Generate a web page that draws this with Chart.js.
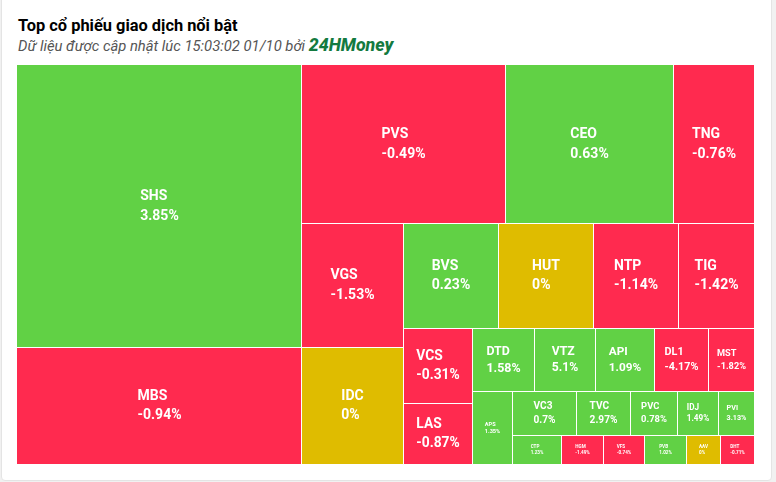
<!DOCTYPE html>
<html>
<head>
<meta charset="utf-8">
<script src="https://cdn.jsdelivr.net/npm/chart.js@4.4.1/dist/chart.umd.min.js"></script>
<style>
html,body{margin:0;padding:0;width:776px;height:482px;overflow:hidden;background:#f1f1f1;font-family:Roboto,"Noto Sans",sans-serif;}
#card{position:absolute;left:1px;top:-4px;width:769px;height:483px;background:#fff;border:1px solid #e4e4e4;border-radius:4px;}
#title{position:absolute;left:18px;top:18px;font-weight:700;font-size:16.4px;line-height:16px;color:#000;white-space:nowrap;}
#sub{position:absolute;left:18px;top:38px;font-style:italic;font-size:14.8px;line-height:14px;color:#555;white-space:nowrap;}
#sub b{color:#137a3f;font-size:17.8px;font-weight:800;}
#wrap{position:absolute;left:17px;top:65px;width:737px;height:399px;}
</style>
</head>
<body>
<div id="card"></div>
<div id="title">Top cổ phiếu giao dịch nổi bật</div>
<div id="sub">Dữ liệu được cập nhật lúc 15:03:02 01/10 bởi <b>24HMoney</b></div>
<div id="wrap"><canvas id="c" width="737" height="399"></canvas></div>
<script>
// Data (trading value, arbitrary units; % change)
const tickers = ["SHS","MBS","PVS","CEO","TNG","VGS","IDC","BVS","HUT","NTP","TIG","VCS","LAS","DTD","VTZ","API","DL1","MST","APS","VC3","TVC","PVC","IDJ","PVI","CTP","HGM","VFS","PVB","AAV","DHT"];
const tradeValues = [798,331,322,264,127,126.5,119,100,100,89,80,52,42,39,38.4,37.2,34,29.1,29,28.2,23.8,20.7,18,15.8,14.2,12.2,11.9,11.9,9.9,9.8];
const priceChanges = [3.85,-0.94,-0.49,0.63,-0.76,-1.53,0,0.23,0,-1.14,-1.42,-0.31,-0.87,1.58,5.1,1.09,-4.17,-1.82,1.35,0.7,2.97,0.78,1.49,3.13,1.23,-1.49,-0.74,1.02,0,-0.71];

const UP='#61d145', DOWN='#ff2a4f', FLAT='#dfbc00';

// Squarified layout (low aspect ratio, alternating direction)
function layoutTreemap(vals, x0, y0, W, H){
  const total = vals.reduce((a,b)=>a+b,0);
  const out = [];
  const parent = {x:x0,y:y0,width:W,height:H};
  const plot = {x:x0,y:y0};
  const g = {height:H,width:W,direction:0,total:0,nW:0,lW:0,nH:0,lH:0,elArr:[],lP:{total:0,lH:0,nH:0,lW:0,nW:0,nR:0,lR:0}};
  const ar = (w,h)=>Math.max(w/h,h/w);
  function add(el){
    const lP = g.lP;
    lP.total = g.elArr[g.elArr.length-1];
    g.total += el;
    if(g.direction===0){
      g.lW = g.nW; lP.lH = lP.total/g.lW; lP.lR = ar(g.lW,lP.lH);
      g.nW = g.total/g.height; lP.nH = lP.total/g.nW; lP.nR = ar(g.nW,lP.nH);
    } else {
      g.lH = g.nH; lP.lW = lP.total/g.lH; lP.lR = ar(lP.lW,g.lH);
      g.nH = g.total/g.width; lP.nW = lP.total/g.nH; lP.nR = ar(lP.nW,g.nH);
    }
    g.elArr.push(el);
  }
  function calc(last){
    let gW=g.lW, gH=g.lH, keep;
    if(last){gW=g.nW; gH=g.nH;} else keep = g.elArr[g.elArr.length-1];
    const end = g.elArr.length-1;
    g.elArr.forEach((p,i)=>{
      if(last || i<end){
        let pw,ph;
        if(g.direction===0){pw=gW; ph=p/pw;} else {ph=gH; pw=p/ph;}
        out.push({x:plot.x,y:plot.y,w:pw,h:ph});
        if(g.direction===0) plot.y+=ph; else plot.x+=pw;
      }
    });
    g.nW=0; g.lW=0; g.elArr=[]; g.total=0;
    if(g.direction===0) g.width-=gW; else g.height-=gH;
    plot.y = parent.y + (parent.height - g.height);
    plot.x = parent.x + (parent.width - g.width);
    g.direction = 1-g.direction;
    if(!last) add(keep);
  }
  vals.forEach((v,i)=>{
    add(W*H*v/total);
    if(g.lP.nR > g.lP.lR) calc(false);
    if(i===vals.length-1) calc(true);
  });
  return out;
}

const treemapPlugin = {
  id:'treemapCells',
  afterDatasetsDraw(chart){
    const xs = chart.scales.x, ys = chart.scales.y, ctx = chart.ctx;
    const rects = layoutTreemap(tradeValues, xs.min, ys.min, xs.max-xs.min, ys.max-ys.min);
    ctx.save();
    rects.forEach((r,i)=>{
      const x1 = Math.round(xs.getPixelForValue(r.x));
      const x2 = Math.round(xs.getPixelForValue(r.x+r.w));
      const y1 = Math.round(ys.getPixelForValue(r.y));
      const y2 = Math.round(ys.getPixelForValue(r.y+r.h));
      const ch = priceChanges[i];
      ctx.fillStyle = ch>0?UP:(ch<0?DOWN:FLAT);
      const ix = x1>chart.chartArea.left+0.5?1:0;
      const iy = y1>chart.chartArea.top+0.5?1:0;
      ctx.fillRect(x1+ix, y1+iy, x2-x1-ix, y2-y1-iy);
      // label
      const w = x2-x1, h = y2-y1;
      let fs = Math.min(14, 0.2*w, 0.23*h);
      if(h<36) fs = Math.min(fs, h*0.16);
      if(h/w>1.6 && w<50) fs *= 0.7;
      ctx.font = '700 '+fs.toFixed(2)+'px Roboto, "Noto Sans", sans-serif';
      const l1 = tickers[i], l2 = ch+'%';
      const tw = Math.max(ctx.measureText(l1).width, ctx.measureText(l2).width);
      const lh = fs*1.38;
      const cx = (x1+x2)/2+0.5, cy = (y1+y2)/2+0.5;
      ctx.fillStyle = '#ffffff';
      ctx.textAlign = 'left';
      ctx.textBaseline = 'middle';
      ctx.fillText(l1, cx-tw/2, cy-lh/2);
      ctx.fillText(l2, cx-tw/2, cy+lh/2);
    });
    ctx.restore();
  }
};

new Chart(document.getElementById('c'), {
  type:'scatter',
  data:{datasets:[{label:'Giá trị giao dịch', data:[], pointRadius:0}]},
  options:{
    responsive:false,
    animation:false,
    layout:{padding:0},
    plugins:{legend:{display:false}, tooltip:{enabled:false}},
    scales:{
      x:{type:'linear', min:0, max:737, display:false},
      y:{type:'linear', min:0, max:399, reverse:true, display:false}
    }
  },
  plugins:[treemapPlugin]
});
</script>
</body>
</html>
